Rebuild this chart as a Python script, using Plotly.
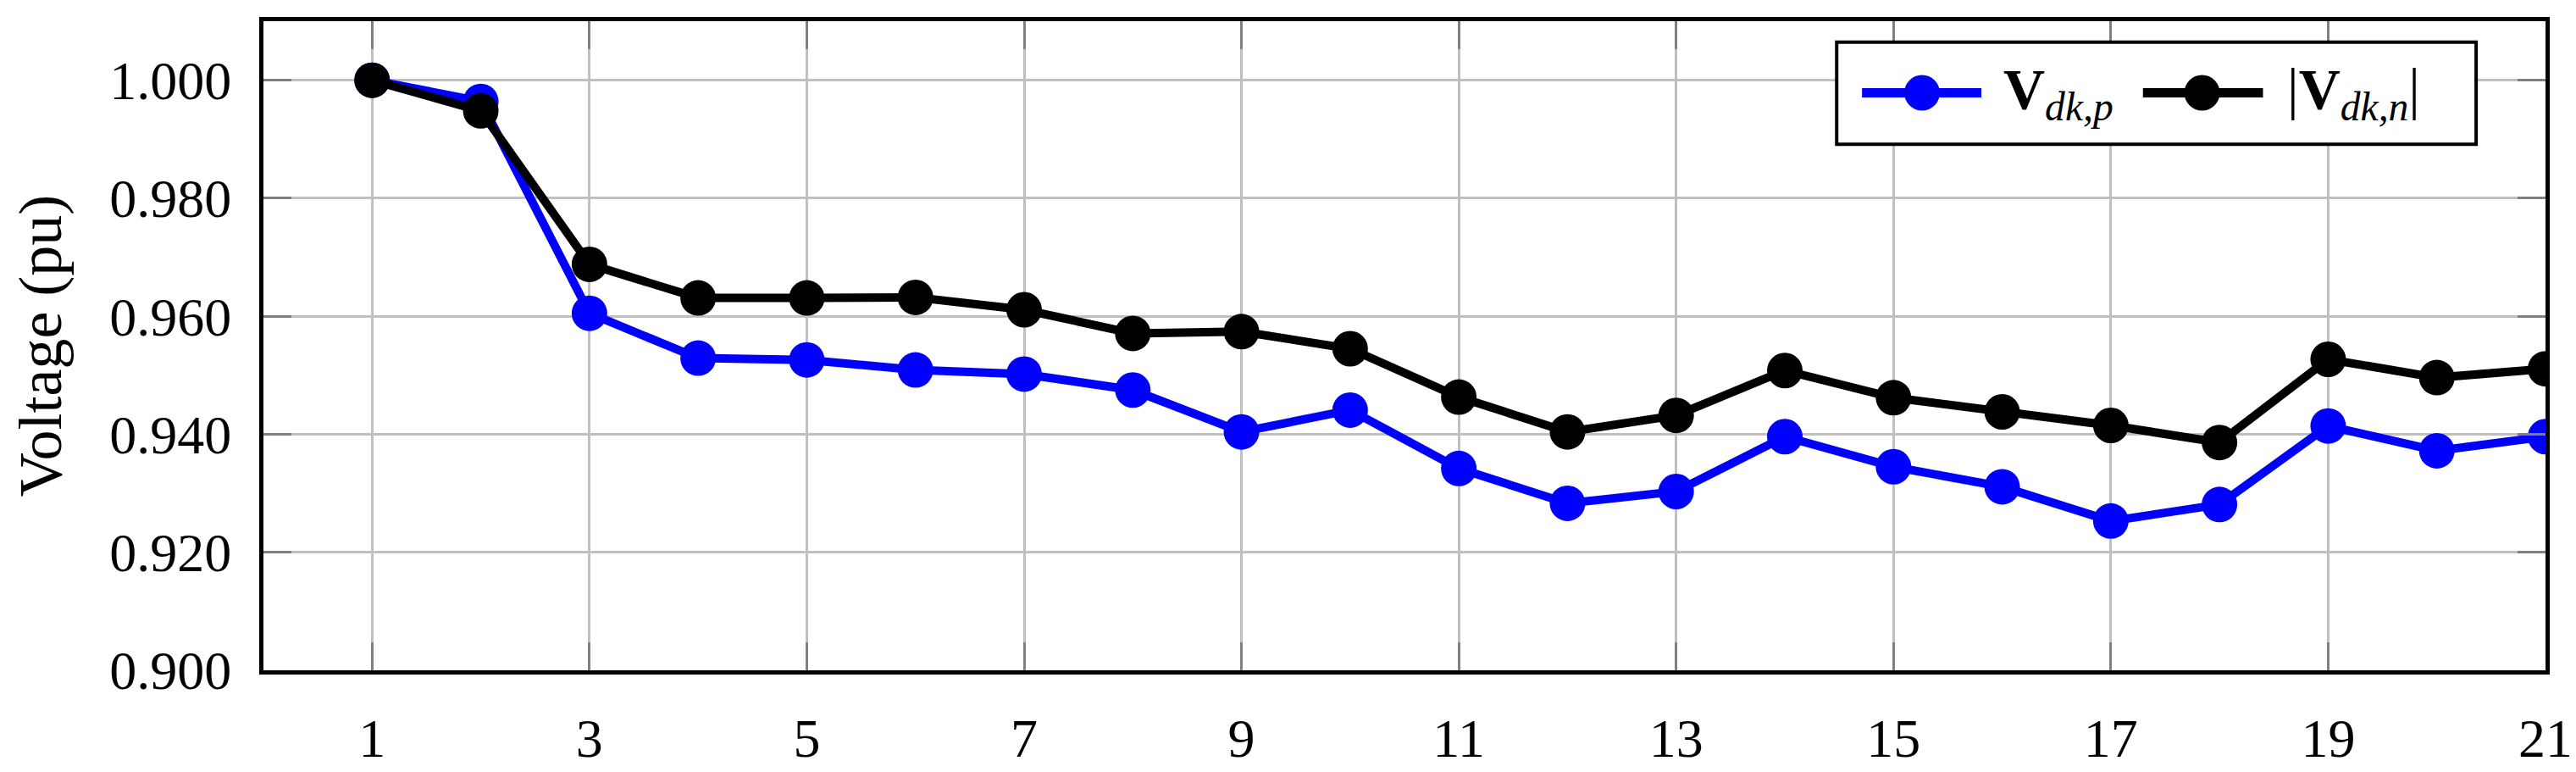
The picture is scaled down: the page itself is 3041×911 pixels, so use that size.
import plotly.graph_objects as go

nodes = list(range(1, 22))
v_pos = [1.000, 0.9964, 0.9605, 0.9529, 0.9526, 0.9509, 0.9502, 0.9475, 0.9404, 0.9441,
         0.9342, 0.9283, 0.9303, 0.9396, 0.9345, 0.9311, 0.9253, 0.9281, 0.9414, 0.9372, 0.9396]
v_neg = [1.000, 0.9948, 0.9688, 0.9631, 0.9631, 0.9632, 0.9611, 0.9571, 0.9574, 0.9545,
         0.9463, 0.9404, 0.9432, 0.9508, 0.9462, 0.9438, 0.9415, 0.9386, 0.9527, 0.9496, 0.9511]
x_ticks = [1, 3, 5, 7, 9, 11, 13, 15, 17, 19, 21]
y_ticks = [0.900, 0.920, 0.940, 0.960, 0.980, 1.000]
y_ticktext = ["%.3f" % v for v in y_ticks]
series_names = ["<b>V</b><sub><i>dk,p</i></sub>", "|<b>V</b><sub><i>dk,n</i></sub>|"]
series_colors = ["#0000ff", "#000000"]

FONT = "Liberation Serif"
fig = go.Figure()
for yv, nm, col in zip([v_pos, v_neg], series_names, series_colors):
    fig.add_trace(go.Scatter(x=nodes, y=yv, mode="lines+markers", name=nm, showlegend=False,
                             line=dict(color=col, width=10), marker=dict(color=col, size=42)))

axis_common = dict(showline=True, linecolor="black", linewidth=5, mirror="ticks",
                   ticks="inside", ticklen=33, tickwidth=3, tickcolor="#808080",
                   showgrid=True, gridcolor="#c0c0c0", gridwidth=3, zeroline=False,
                   tickfont=dict(family=FONT, size=64, color="black"))
fig.update_xaxes(range=[0, 21], tickvals=x_ticks, ticklabelstandoff=20, **axis_common)
fig.update_yaxes(range=[0.9, 1.01], tickvals=y_ticks, ticktext=y_ticktext, ticklabelstandoff=20,
                 title=dict(text="Voltage (pu)", font=dict(family=FONT, size=72, color="black"), standoff=36),
                 **axis_common)

# manual legend (paper coordinates)
shapes = [dict(type="rect", xref="paper", yref="paper", x0=0.6894, x1=0.9696, y0=0.8104, y1=0.9678,
               line=dict(color="black", width=4), fillcolor="white", layer="above")]
ly = 0.8897
entries = [(0.7005, 0.7528, 0.7268, 0.7617), (0.8236, 0.8762, 0.8495, 0.8862)]
annotations = []
for (lx0, lx1, mx, tx), nm, col in zip(entries, series_names, series_colors):
    shapes.append(dict(type="line", xref="paper", yref="paper", x0=lx0, x1=lx1, y0=ly, y1=ly,
                       line=dict(color=col, width=11), layer="above"))
    shapes.append(dict(type="circle", xref="paper", yref="paper", xsizemode="pixel", ysizemode="pixel",
                       xanchor=mx, yanchor=ly, x0=-21, x1=21, y0=-21, y1=21,
                       fillcolor=col, line=dict(color=col, width=0), layer="above"))
    annotations.append(dict(xref="paper", yref="paper", x=tx, y=ly, xanchor="left", yanchor="middle",
                            text=nm, showarrow=False, font=dict(family=FONT, size=68, color="black")))

fig.update_layout(width=3041, height=911, margin=dict(l=303, r=40, t=17, b=87),
                  plot_bgcolor="white", paper_bgcolor="white",
                  font=dict(family=FONT, size=64, color="black"),
                  shapes=shapes, annotations=annotations, showlegend=False)
fig.write_html("out.html")
